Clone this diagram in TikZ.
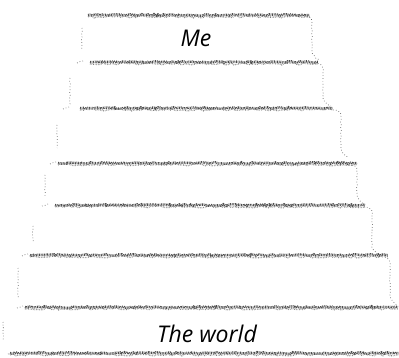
\documentclass[tikz,border=0pt]{standalone}
\usepackage{fontspec}
\setmainfont{Open Sans}
\usetikzlibrary{decorations.pathmorphing}
\begin{document}
\begin{tikzpicture}[x=1pt,y=-1pt,
  rim/.style={draw=black!70,line width=2.4pt,dash pattern=on 0.8pt off 0.8pt,
    decorate,decoration={random steps,segment length=2pt,amplitude=0.8pt}},
  rim2/.style={draw=black!50,line width=1.4pt,dash pattern=on 0.6pt off 1pt,
    decorate,decoration={random steps,segment length=3pt,amplitude=1pt}},
  side/.style={draw=black!60,line width=0.7pt,dash pattern=on 0.7pt off 2.2pt,
    decorate,decoration={random steps,segment length=2pt,amplitude=0.5pt}},
  lbl/.style={font=\itshape\fontsize{23}{26}\selectfont,text=black,inner sep=0pt}]
\pgfmathsetseed{7}
\useasboundingbox (0,0) rectangle (399,358);
% horizontal rims: y, start, end, lead mark
\foreach \y/\a/\b/\l in {15/88/310/88, 62/90/318/77, 108/80/333/63, 163/58/357/50,
                          205/55/365/42, 255/30/388/22, 307/25/398/17, 353/10/399/8}{
  \draw[rim] (\a,\y) -- (\b,\y);
  \draw[rim2] (\a,\y+1.8) -- (\b,\y+1.8);
  \draw[side] (\l,\y+1) -- (\l+6,\y-1);
}
% right sides with rounded top corners
\foreach \x/\t/\bt in {312/16/56, 323/63/102, 341/110/153, 357/165/200,
                        372/207/251, 390/257/301}{
  \draw[side] (\x-8,\t) .. controls (\x-2,\t) and (\x,\t+3) .. (\x,\t+8) -- (\x,\bt-6)
      .. controls (\x,\bt-2) and (\x+4,\bt+3) .. (\x+8,\bt+4);
}
% left sides
\foreach \x/\t/\bt in {82/28/50, 70/78/106, 57/125/148, 45/175/197,
                        33/226/242, 18/268/298, 3/322/340}{
  \draw[side] (\x,\t) -- (\x,\bt);
}
\node[lbl] (me) at (196,38) {Me};
\node[lbl] (world) at (207,334) {The world};
\end{tikzpicture}
\end{document}
